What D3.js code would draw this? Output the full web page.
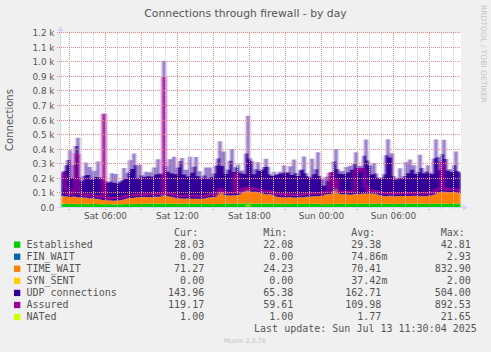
<!DOCTYPE html>
<html>
<head>
<meta charset="utf-8">
<script src="https://cdn.jsdelivr.net/npm/d3@7"></script>
<style>
  html, body { margin: 0; padding: 0; background: #f0f0f0; }
  svg { display: block; }
</style>
</head>
<body>
<svg id="chart" width="491" height="352"></svg>
<script>
// one value every 10 minutes, from Sat 02:20 to Sun 11:40
const established = [
  30,29,31,28,27,29,30,28,26,27, 28,29,27,26,28,30,29,27,28,26,
  25,27,26,28,27,25,22,26,27,25, 26,28,27,29,28,26,27,29,30,28,
  29,31,30,28,29,30,32,31,29,30, 31,33,30,29,31,30,28,29,31,30,
  29,28,30,31,29,28,27,29,30,28, 27,28,29,27,26,28,29,30,28,27,
  28,30,29,31,30,28,29,30,32,31, 30,32,33,42,31,30,29,31,30,32,
  31,30,29,31,32,30,28,29,30,31, 30,29,28,30,31,29,28,27,29,30,
  28,29,30,28,27,29,30,31,29,28, 27,26,28,27,26,28,29,30,28,29,
  30,29,31,30,29,28,30,31,29,30, 31,30,29,28,30,29,31,30,28,29,
  30,29,28,30,31,29,28,30,29,28, 29,30,31,29,28,30,29,31,30,29,
  30,29,28,29,30,31,29,28,30,29, 30,31,29,30,28,29,30,31,29,28
]
const finWait = [
  0,0,0,0,0,0,0,0,0,0, 0,0,0,0,0,0,0,0,0,0, 0,0,0,0,0,0,0,0,0,0, 0,0,0,0,0,0,0,0,0,0,
  0,0,0,0,0,0,0,0,0,0, 0,0,0,0,0,0,0,0,0,0, 0,0,0,0,0,0,0,0,0,0, 0,0,0,0,0,0,0,0,0,0,
  0,0,0,0,0,0,0,0,0,0, 0,0,0,0,0,0,0,0,0,0, 0,0,0,0,0,0,0,0,0,0, 0,0,0,0,0,0,0,0,0,0,
  0,0,0,0,0,0,0,0,0,0, 0,0,0,0,0,0,0,0,0,0, 0,0,0,0,0,0,0,0,0,0, 0,0,0,0,0,0,0,0,0,0,
  0,0,0,0,0,0,0,0,0,0, 2.93,0,0,0,0,0,0,0,0,0, 0,0,0,0,0,0,0,0,0,0, 0,0,0,0,0,0,0,0,0,0,
  0,0,0,0,0,0,0,0,0,0, 0,0,0,0,0,0,0,0,0,0, 0,0,0,0,0,0,0,0,0,0, 0,0,0,0,0,0,0,0,0,0
]
const timeWait = [
  52,50,48,51,49,47,50,48,45,46, 44,42,45,40,38,41,37,35,36,33,
  30,28,26,25,27,24,26,28,25,27, 29,31,34,38,40,42,41,44,43,45,
  44,46,43,45,47,44,46,48,45,47, 48,833,52,50,48,46,44,38,36,35,
  34,36,33,35,37,34,36,35,33,34, 36,35,38,44,46,45,47,44,62,85,
  80,58,55,57,54,56,58,55,57,60, 78,82,80,84,79,81,83,80,78,72,
  68,66,64,62,65,60,55,48,45,43, 42,44,41,43,45,42,44,43,41,44,
  46,45,48,50,52,49,51,50,53,52, 55,60,66,68,70,67,90,140,72,66,
  64,62,65,63,61,64,62,66,63,65, 67,69,70,68,71,66,68,67,62,56,
  54,52,53,51,55,52,50,53,52,54, 51,53,52,50,54,52,55,53,51,52,
  54,52,53,55,51,56,60,72,78,80, 79,82,77,80,78,81,79,76,74,71
]
const synSent = [
  0,0,0,0,0,0,0,0,0,0, 0,0,0,0,0,0,0,0,0,0, 0,0,0,0,0,0,0,0,0,0, 0,0,0,0,0,0,0,0,0,0,
  2,0,0,0,0,0,0,0,0,0, 0,0,0,0,0,0,0,0,0,0, 0,0,0,0,0,0,0,0,0,0, 0,0,0,0,0,0,0,0,0,0,
  0,0,0,0,0,0,0,0,0,0, 0,0,0,2,0,0,0,0,0,0, 0,0,0,0,0,0,0,0,0,0, 0,0,0,0,0,0,0,0,0,0,
  0,0,0,0,0,0,0,0,0,0, 0,0,0,0,0,0,0,0,0,0, 0,0,0,0,0,0,0,0,0,0, 0,0,0,0,0,0,0,0,0,0,
  0,0,0,0,0,0,0,0,0,0, 0,0,0,0,0,0,0,0,0,0, 0,0,0,0,0,0,0,0,0,0, 0,0,0,0,0,0,0,0,0,0,
  0,0,0,0,0,0,0,0,0,0, 0,0,0,0,0,0,0,0,0,0, 0,0,0,0,0,0,0,0,0,0, 0,0,0,0,0,0,0,0,0,0
]
const udp = [
  160,175,215,250,320,130,215,350,410,140, 115,150,240,160,215,125,190,150,255,150,
  140,170,135,120,128,190,125,180,118,130, 135,215,140,175,260,200,305,220,130,225,
  150,135,175,145,170,140,200,150,260,160, 150,144,205,170,255,160,280,165,210,255,
  280,165,200,150,285,180,220,285,155,190, 140,160,210,130,205,140,160,215,250,345,
  180,300,150,175,240,320,160,195,210,150, 150,120,260,504,230,210,120,155,205,150,
  165,185,245,190,135,130,165,150,160,175, 165,220,175,170,210,155,260,170,150,185,
  190,280,160,140,130,260,150,185,300,140, 115,66,120,90,125,150,200,235,165,140,
  160,140,185,150,200,170,210,285,180,195, 170,260,370,230,190,135,210,140,120,115,
  125,150,280,390,260,295,140,110,125,190, 120,135,230,160,250,180,210,150,165,285,
  190,155,170,210,160,145,250,370,240,150, 260,355,230,145,160,135,185,280,150,144
]
const assured = [
  236,220,140,98,95,94,120,370,365,92, 90,88,92,85,84,90,83,80,82,78,
  74,640,70,60,71,68,69,72,70,71, 72,77,80,85,86,87,88,92,91,93,
  92,95,91,93,96,94,97,99,94,96, 98,892,101,97,99,95,92,86,85,83,
  82,84,81,85,86,80,82,84,81,80, 82,81,86,90,92,93,95,94,108,128,
  126,108,103,106,104,103,106,236,112,110, 128,133,131,140,129,130,132,130,127,122,
  118,115,112,113,116,108,102,96,94,92, 91,92,88,92,95,90,91,89,88,93,
  94,93,97,98,99,97,100,101,102,99, 101,106,113,114,235,240,140,190,118,114,
  112,110,115,112,109,111,112,250,262,270, 268,255,150,116,120,114,118,116,110,104,
  102,100,99,101,104,100,97,101,99,100, 99,101,102,98,101,100,103,102,99,100,
  103,100,101,104,100,106,108,120,128,130, 314,130,126,129,125,130,128,126,123,119
]
const nated = [
  1,1,1,1,1,1,1,1,1,1, 1,1,3,1,1,1,1,1,1,1, 1,1,1,1,1,1,1,1,1,1, 1,1,1,1,1,1,1,1,1,1,
  2,1,1,1,1,1,1,1,1,1, 1,1,1,1,1,1,1,1,1,1, 1,1,1,1,1,1,1,1,1,1, 1,1,1,1,1,1,1,1,1,1,
  1,1,1,1,1,1,1,1,1,1, 1,1,1,21.65,1,4,1,1,1,1, 1,1,1,1,1,1,1,1,1,1, 1,1,1,1,1,1,1,1,1,1,
  2,1,1,1,1,1,1,1,1,1, 1,1,1,1,1,1,1,1,1,1, 1,1,1,1,1,1,1,1,1,1, 1,1,1,1,1,1,1,1,1,1,
  1,1,1,1,1,1,1,1,1,1, 3,1,1,1,1,1,1,1,1,1, 1,1,1,1,1,1,1,1,1,1, 1,1,1,1,1,2,1,1,1,1,
  1,1,1,1,1,1,1,1,1,1, 1,1,1,1,1,1,1,1,1,1, 1,1,1,1,1,1,1,1,1,1, 1,1,1,1,1,1,1,1,1,1
]

const seriesNames = ["Established", "FIN_WAIT", "TIME_WAIT", "SYN_SENT", "UDP connections", "Assured", "NATed"]
const seriesColors = ["#00cc00", "#0066b3", "#ff8000", "#ffcc00", "#330099", "#990099", "#ccff00"]
const curValues = ["28.03", "0.00", "71.27", "0.00", "143.96", "119.17", "1.00"]
const minValues = ["22.08", "0.00", "24.23", "0.00", "65.38", "59.61", "1.00"]
const avgValues = ["29.38", "74.86m", "70.41", "37.42m", "162.71", "109.98", "1.77"]
const maxValues = ["42.81", "2.93", "832.90", "2.00", "504.00", "892.53", "21.65"]
const yTicks = [0, 100, 200, 300, 400, 500, 600, 700, 800, 900, 1000, 1100, 1200]

const layout = {"left": 61, "right": 461, "top": 33, "bottom": 208}
const stepMinutes = 10
const t0 = new Date(2025, 6, 12, 2, 20)
const tEnd = new Date(t0.getTime() + established.length * stepMinutes * 60000)

const rows = established.map((d, i) => ({
  t: new Date(t0.getTime() + i * stepMinutes * 60000),
  established: d, finWait: finWait[i], timeWait: timeWait[i], synSent: synSent[i],
  udp: udp[i], assured: assured[i], nated: nated[i]
}))
// closing row so the last step reaches the right edge
rows.push(Object.assign({}, rows[rows.length - 1], {t: tEnd}))

const svg = d3.select("#chart")
const fontSans = "'DejaVu Sans', sans-serif"
const fontMono = "'DejaVu Sans Mono', monospace"
const textColor = "#555"

const x = d3.scaleTime().domain([t0, tEnd]).range([layout.left, layout.right])
const y = d3.scaleLinear().domain([0, 1200]).range([layout.bottom, layout.top])

const defs = svg.append("defs")
defs.append("clipPath").attr("id", "plotClip")
    .append("rect")
    .attr("x", layout.left).attr("y", 0)
    .attr("width", layout.right - layout.left).attr("height", layout.bottom)
defs.append("filter").attr("id", "hblur")
    .attr("x", "-5%").attr("width", "110%").attr("y", "-5%").attr("height", "110%")
    .append("feGaussianBlur").attr("stdDeviation", "1.5 0")

// plot canvas
svg.append("rect")
   .attr("x", layout.left).attr("y", layout.top)
   .attr("width", layout.right - layout.left).attr("height", layout.bottom - layout.top)
   .attr("fill", "#ffffff")

const stackKeys = ["established", "finWait", "timeWait", "synSent", "udp"]
const stacked = d3.stack().keys(stackKeys)(rows)

const area = d3.area()
               .curve(d3.curveStepAfter)
               .x(d => x(d.data.t))
               .y0(d => y(d[0]))
               .y1(d => y(d[1]))

const dataG = svg.append("g").attr("clip-path", "url(#plotClip)")
                 .append("g").attr("filter", "url(#hblur)")

dataG.selectAll("path.layer")
     .data(stacked)
     .join("path")
     .attr("class", "layer")
     .attr("fill", (d, i) => seriesColors[i])
     .attr("d", area)

const line = key => d3.line()
                      .curve(d3.curveStepAfter)
                      .x(d => x(d.t))
                      .y(d => y(d[key]))

dataG.append("path")
     .attr("fill", "none")
     .attr("stroke", seriesColors[5])
     .attr("stroke-width", 2)
     .attr("d", line("assured")(rows))

dataG.append("path")
     .attr("fill", "none")
     .attr("stroke", seriesColors[6])
     .attr("stroke-width", 1)
     .attr("d", line("nated")(rows))

// grid on top of the data, like rrdtool
const hours = d3.timeHour.range(d3.timeHour.ceil(t0), tEnd)
const gridG = svg.append("g").attr("shape-rendering", "crispEdges")

gridG.selectAll("line.minor")
     .data(hours.filter(h => h.getHours() % 3 !== 0))
     .join("line")
     .attr("class", "minor")
     .attr("x1", d => Math.round(x(d)) + 0.5).attr("x2", d => Math.round(x(d)) + 0.5)
     .attr("y1", layout.top).attr("y2", layout.bottom + 2)
     .attr("stroke", "#c8c8c8")
     .attr("stroke-dasharray", "1,1")

gridG.selectAll("line.majorx")
     .data(hours.filter(h => h.getHours() % 3 === 0))
     .join("line")
     .attr("class", "majorx")
     .attr("x1", d => Math.round(x(d)) + 0.5).attr("x2", d => Math.round(x(d)) + 0.5)
     .attr("y1", layout.top).attr("y2", layout.bottom + 3)
     .attr("stroke", "#f08a8a")
     .attr("stroke-dasharray", "1,1")

gridG.selectAll("line.majory")
     .data(yTicks)
     .join("line")
     .attr("class", "majory")
     .attr("x1", layout.left - 4).attr("x2", layout.right)
     .attr("y1", d => y(d) - 0.5).attr("y2", d => y(d) - 0.5)
     .attr("stroke", "#f08a8a")
     .attr("stroke-dasharray", "1,1")

// axes with rrdtool style arrows
const axisColor = "#cfd6f8"
svg.append("line")
   .attr("x1", layout.left - 0.5).attr("x2", layout.left - 0.5)
   .attr("y1", layout.bottom + 1).attr("y2", layout.top - 4)
   .attr("stroke", axisColor)
svg.append("line")
   .attr("x1", layout.left - 4).attr("x2", layout.right + 3)
   .attr("y1", layout.bottom - 0.5).attr("y2", layout.bottom - 0.5)
   .attr("stroke", axisColor)
svg.append("path")
   .attr("d", `M${layout.left - 3.5},${layout.top - 2} L${layout.left - 0.5},${layout.top - 7} L${layout.left + 2.5},${layout.top - 2} Z`)
   .attr("fill", axisColor)
svg.append("path")
   .attr("d", `M${layout.right + 2},${layout.bottom - 3.5} L${layout.right + 7},${layout.bottom - 0.5} L${layout.right + 2},${layout.bottom + 2.5} Z`)
   .attr("fill", axisColor)

// y labels
svg.append("g")
   .selectAll("text")
   .data(yTicks)
   .join("text")
   .attr("x", 54.5)
   .attr("y", d => y(d) + 3)
   .attr("text-anchor", "end")
   .style("font-family", fontSans)
   .style("font-size", "8.9px")
   .attr("fill", textColor)
   .text(d => d === 0 ? "0.0" : (d / 1000).toFixed(1) + " k")

// x labels every 6 hours
svg.append("g")
   .selectAll("text")
   .data(hours.filter(h => h.getHours() % 6 === 0))
   .join("text")
   .attr("x", d => x(d) + 0.5)
   .attr("y", 219)
   .attr("text-anchor", "middle")
   .style("font-family", fontSans)
   .style("font-size", "8.9px")
   .attr("fill", textColor)
   .text(d3.timeFormat("%a %H:%M"))

// titles
svg.append("text")
   .attr("x", 245.5).attr("y", 16.5)
   .attr("text-anchor", "middle")
   .style("font-family", fontSans)
   .style("font-size", "10.8px")
   .attr("fill", textColor)
   .text("Connections through firewall - by day")

svg.append("text")
   .attr("transform", "translate(13,120) rotate(-90)")
   .attr("text-anchor", "middle")
   .style("font-family", fontSans)
   .style("font-size", "10px")
   .attr("fill", textColor)
   .text("Connections")

svg.append("text")
   .attr("transform", "translate(480.5,5) rotate(90)")
   .style("font-family", fontSans)
   .style("font-size", "7.6px")
   .attr("fill", "#c4c4c4")
   .text("RRDTOOL / TOBI OETIKER")

// legend
const charW = 6.02
const legendTop = 247.8
const rowH = 12.07
const colEnd = [204.2, 293.3, 381.4, 470.8]
const headers = ["Cur:", "Min:", "Avg:", "Max:"]
const legendG = svg.append("g")
                   .style("font-family", fontMono)
                   .style("font-size", "10px")
                   .attr("fill", textColor)

legendG.selectAll("text.head")
       .data(headers)
       .join("text")
       .attr("class", "head")
       .attr("x", (d, i) => colEnd[i] - charW)
       .attr("y", legendTop - rowH)
       .attr("text-anchor", "end")
       .text(d => d)

const legendRows = legendG.selectAll("g.row")
                          .data(seriesNames)
                          .join("g")
                          .attr("class", "row")
                          .attr("transform", (d, i) => `translate(0,${legendTop + i * rowH})`)

legendRows.append("rect")
          .attr("x", 14).attr("y", -6.3)
          .attr("width", 6.3).attr("height", 6.3)
          .attr("fill", (d, i) => seriesColors[i])
legendRows.append("text")
          .attr("x", 26.5)
          .text(d => d)

const columns = [curValues, minValues, avgValues, maxValues]
columns.forEach((col, c) => {
  legendRows.append("text")
            .attr("x", (d, i) => colEnd[c] + (col[i].endsWith("m") ? charW : 0))
            .attr("text-anchor", "end")
            .text((d, i) => col[i])
})

legendG.append("text")
       .attr("x", 476.8)
       .attr("y", legendTop + 7 * rowH)
       .attr("text-anchor", "end")
       .text("Last update: Sun Jul 13 11:30:04 2025")

svg.append("text")
   .attr("x", 245).attr("y", 342.5)
   .attr("text-anchor", "middle")
   .style("font-family", fontSans)
   .style("font-size", "6.4px")
   .attr("fill", "#c4c4c4")
   .text("Munin 2.0.76")
</script>
</body>
</html>
